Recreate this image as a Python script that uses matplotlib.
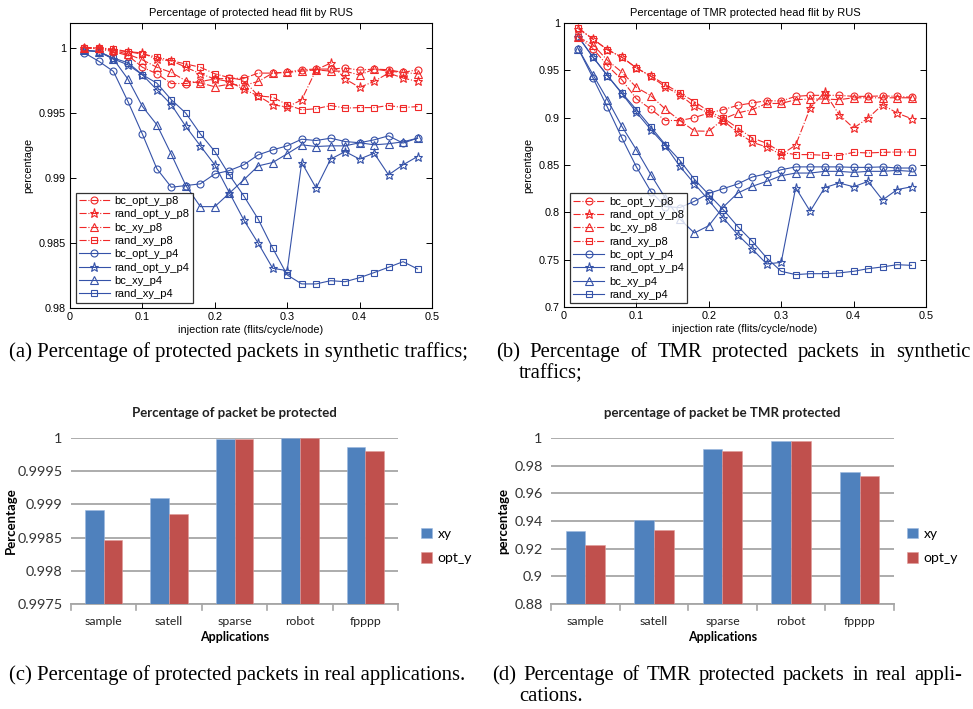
import matplotlib
matplotlib.use("Agg")
import matplotlib.pyplot as plt
from matplotlib.lines import Line2D

W, H = 973, 709

# ---------------- data ----------------
rate = [0.02, 0.04, 0.06, 0.08, 0.10, 0.12, 0.14, 0.16, 0.18, 0.20, 0.22, 0.24,
        0.26, 0.28, 0.30, 0.32, 0.34, 0.36, 0.38, 0.40, 0.42, 0.44, 0.46, 0.48]

a_bc_opt_y_p8 = [1.0, 0.9999, 0.9997, 0.9994, 0.9985, 0.9980, 0.99725, 0.99725, 0.9974, 0.9976, 0.99765, 0.99765,
                 0.99805, 0.99805, 0.99813, 0.99831, 0.99836, 0.99836, 0.99844, 0.99828, 0.99836, 0.99831, 0.9981, 0.99831]
a_rand_opt_y_p8 = [1.0, 1.0, 0.9998, 0.9997, 0.9996, 0.9991, 0.9990, 0.9985, 0.9980, 0.9976, 0.9974, 0.9968,
                   0.9963, 0.99562, 0.99544, 0.9960, 0.99831, 0.99882, 0.9976, 0.99695, 0.99741, 0.99805, 0.99767, 0.99741]
a_bc_xy_p8 = [1.0, 0.99995, 0.9998, 0.9995, 0.99907, 0.9985, 0.9981, 0.99746, 0.9973, 0.9970, 0.9972, 0.9971,
              0.99741, 0.99805, 0.9981, 0.9982, 0.9983, 0.9982, 0.9982, 0.9979, 0.99836, 0.9982, 0.9981, 0.9980]
a_rand_xy_p8 = [1.0, 0.99998, 0.9999, 0.9997, 0.9995, 0.9993, 0.9990, 0.99875, 0.9985, 0.9980, 0.9977, 0.9975,
                0.9963, 0.9962, 0.99562, 0.99523, 0.99531, 0.99556, 0.99536, 0.9954, 0.9954, 0.99556, 0.9954, 0.99548]
a_bc_opt_y_p4 = [0.9996, 0.99895, 0.99818, 0.99587, 0.99336, 0.9907, 0.98928, 0.98941, 0.98954, 0.9903, 0.99056, 0.9910,
                 0.99177, 0.99215, 0.99246, 0.99297, 0.99287, 0.99305, 0.99279, 0.9927, 0.99292, 0.99323, 0.99267, 0.99305]
a_rand_opt_y_p4 = [0.9998, 0.9997, 0.99913, 0.99869, 0.99792, 0.99677, 0.99562, 0.99395, 0.99246, 0.9910, 0.98887, 0.98677,
                   0.98497, 0.98305, 0.98287, 0.99118, 0.98921, 0.99144, 0.99202, 0.99144, 0.9919, 0.99023, 0.9910, 0.99164]
a_bc_xy_p4 = [0.9998, 0.9997, 0.99913, 0.99759, 0.99549, 0.99408, 0.9918, 0.98941, 0.98779, 0.98779, 0.98882, 0.98985,
              0.99092, 0.99118, 0.99185, 0.99254, 0.99241, 0.99246, 0.99246, 0.9927, 0.99254, 0.99262, 0.99277, 0.99305]
a_rand_xy_p4 = [0.9998, 0.9997, 0.9992, 0.99885, 0.99792, 0.99728, 0.9960, 0.99497, 0.99338, 0.99203, 0.99023, 0.98862,
                0.98682, 0.98459, 0.98254, 0.98185, 0.98185, 0.9821, 0.98202, 0.98233, 0.98272, 0.98313, 0.98356, 0.9830]

b_bc_opt_y_p8 = [0.985, 0.973, 0.955, 0.940, 0.920, 0.909, 0.897, 0.897, 0.900, 0.905, 0.9085, 0.913,
                 0.9155, 0.918, 0.9176, 0.9225, 0.9236, 0.9236, 0.9236, 0.9225, 0.9225, 0.923, 0.9225, 0.9215]
b_rand_opt_y_p8 = [0.9937, 0.9831, 0.9718, 0.9637, 0.9525, 0.9437, 0.9324, 0.9243, 0.912, 0.9049, 0.8968, 0.8845,
                   0.874, 0.869, 0.861, 0.871, 0.9102, 0.9268, 0.9032, 0.889, 0.8996, 0.9137, 0.9049, 0.8989]
b_bc_xy_p8 = [0.985, 0.977, 0.9606, 0.948, 0.932, 0.9232, 0.909, 0.897, 0.886, 0.8856, 0.8986, 0.905,
              0.9085, 0.915, 0.915, 0.919, 0.9197, 0.9197, 0.919, 0.921, 0.921, 0.921, 0.921, 0.921]
b_rand_xy_p8 = [0.9947, 0.983, 0.9718, 0.964, 0.9525, 0.944, 0.935, 0.926, 0.917, 0.9067, 0.8996, 0.889,
                0.8785, 0.873, 0.8634, 0.861, 0.861, 0.8602, 0.860, 0.8634, 0.8627, 0.8634, 0.8637, 0.8637]
b_bc_opt_y_p4 = [0.9725, 0.942, 0.911, 0.8785, 0.848, 0.822, 0.806, 0.805, 0.8116, 0.820, 0.825, 0.830,
                 0.8373, 0.8408, 0.845, 0.848, 0.848, 0.848, 0.848, 0.8475, 0.8475, 0.848, 0.8468, 0.8468]
b_rand_opt_y_p4 = [0.9852, 0.964, 0.9444, 0.9254, 0.9056, 0.8873, 0.8704, 0.8486, 0.8303, 0.8127, 0.794, 0.7764,
                   0.7613, 0.7454, 0.7472, 0.826, 0.8011, 0.826, 0.831, 0.827, 0.8327, 0.813, 0.824, 0.827]
b_bc_xy_p4 = [0.9725, 0.9454, 0.919, 0.8908, 0.866, 0.8398, 0.815, 0.793, 0.7782, 0.7859, 0.8056, 0.8204,
              0.8275, 0.8327, 0.8387, 0.8415, 0.8415, 0.8433, 0.8433, 0.8422, 0.8433, 0.8433, 0.8443, 0.8433]
b_rand_xy_p4 = [0.9852, 0.964, 0.9444, 0.926, 0.9085, 0.8901, 0.8715, 0.8549, 0.835, 0.8187, 0.8028, 0.785,
                0.7694, 0.7518, 0.7377, 0.7342, 0.7352, 0.7352, 0.736, 0.7377, 0.7405, 0.7423, 0.7447, 0.744]

series_names = ["bc_opt_y_p8", "rand_opt_y_p8", "bc_xy_p8", "rand_xy_p8",
                "bc_opt_y_p4", "rand_opt_y_p4", "bc_xy_p4", "rand_xy_p4"]

apps = ["sample", "satell", "sparse", "robot", "fpppp"]
c_xy = [0.99892, 0.99909, 0.99998, 1.0, 0.99986]
c_opt_y = [0.99846, 0.99886, 0.99998, 1.0, 0.99980]
d_xy = [0.9325, 0.9405, 0.9918, 0.9980, 0.9757]
d_opt_y = [0.9227, 0.9335, 0.9905, 0.9980, 0.9727]

a_yticks = [0.98, 0.985, 0.99, 0.995, 1.0]
b_yticks = [0.7, 0.75, 0.8, 0.85, 0.9, 0.95, 1.0]
x_ticks = [0, 0.1, 0.2, 0.3, 0.4, 0.5]
c_yticks = [0.9975, 0.998, 0.9985, 0.999, 0.9995, 1.0]
d_yticks = [0.88, 0.9, 0.92, 0.94, 0.96, 0.98, 1.0]

# ---------------- figure ----------------
fig = plt.figure(figsize=(W / 100, H / 100), dpi=100)
fig.patch.set_facecolor("white")


def ax_px(l, t, r, b):
    return fig.add_axes([l / W, 1 - b / H, (r - l) / W, (b - t) / H])


RED = "#F02828"
BLUE = "#3552A8"
SANS = "Liberation Sans"
markers = ["o", "*", "^", "s"]
msizes = [5, 6.5, 5.5, 4.5]


def line_panel(ax, datasets, yticks, ylim, title, leg_box):
    for i, ys in enumerate(datasets):
        red = i < 4
        ax.plot(rate, ys, color=RED if red else BLUE,
                linestyle="-." if red else "-", linewidth=0.8,
                marker=markers[i % 4], markersize=msizes[i % 4],
                markerfacecolor="none", markeredgecolor=RED if red else BLUE,
                markeredgewidth=0.8, zorder=3 if red else 2)
    ax.set_xlim(0, 0.5)
    ax.set_ylim(*ylim)
    ax.set_xticks(x_ticks)
    ax.set_xticklabels(["%g" % v for v in x_ticks], fontsize=7.8, family=SANS)
    ax.set_yticks(yticks)
    ax.set_yticklabels(["%g" % v for v in yticks], fontsize=7.8, family=SANS)
    ax.tick_params(direction="in", top=True, right=True, length=4, width=0.7, pad=3)
    for s in ax.spines.values():
        s.set_linewidth(0.8)
    ax.set_title(title, fontsize=8, family=SANS, pad=5)
    ax.set_xlabel("injection rate (flits/cycle/node)", fontsize=7.8, family=SANS, labelpad=2)
    ax.set_ylabel("percentage", fontsize=7.8, family=SANS, labelpad=4)
    handles = []
    for i, n in enumerate(series_names):
        red = i < 4
        handles.append(Line2D([], [], color=RED if red else BLUE,
                              linestyle="-." if red else "-", linewidth=0.8,
                              marker=markers[i % 4], markersize=msizes[i % 4],
                              markerfacecolor="none",
                              markeredgecolor=RED if red else BLUE, markeredgewidth=0.8))
    l, b = leg_box
    leg = ax.legend(handles, series_names, loc="lower left",
                    bbox_to_anchor=(l, b), bbox_transform=fig.transFigure,
                    prop={"family": SANS, "size": 8}, frameon=True, fancybox=False,
                    edgecolor="black", borderpad=0.3, labelspacing=0.3,
                    handlelength=2.8, handletextpad=0.4, borderaxespad=0)
    leg.get_frame().set_linewidth(0.9)
    leg.set_zorder(10)


ax_a = ax_px(70, 23, 432, 308)
line_panel(ax_a, [a_bc_opt_y_p8, a_rand_opt_y_p8, a_bc_xy_p8, a_rand_xy_p8,
                  a_bc_opt_y_p4, a_rand_opt_y_p4, a_bc_xy_p4, a_rand_xy_p4],
           a_yticks, (0.98, 1.0019), "Percentage of protected head flit by RUS",
           (75.5 / W, 1 - 302.7 / H))

ax_b = ax_px(564, 23, 926, 307)
line_panel(ax_b, [b_bc_opt_y_p8, b_rand_opt_y_p8, b_bc_xy_p8, b_rand_xy_p8,
                  b_bc_opt_y_p4, b_rand_opt_y_p4, b_bc_xy_p4, b_rand_xy_p4],
           b_yticks, (0.7, 1.0), "Percentage of TMR protected head flit by RUS",
           (570 / W, 1 - 303.3 / H))

# ---------------- bar panels ----------------
BAR_FONT = "Lato"
XY_C = "#4F81BD"
OPT_C = "#C0504D"
GRID_C = "#A6A6A6"


def bar_panel(ax, xy, opt, yticks, title, ylabel, fmt, leg_x, ylab_x):
    xs = list(range(len(apps)))
    w = 0.286
    ax.bar([x - w / 2 for x in xs], xy, width=w, color=XY_C, label="xy", zorder=3,
           edgecolor="#9DB9E0", linewidth=0.4)
    ax.bar([x + w / 2 for x in xs], opt, width=w, color=OPT_C, label="opt_y", zorder=3,
           edgecolor="#E09C9A", linewidth=0.4)
    ax.set_xlim(-0.5, len(apps) - 0.5)
    ax.set_ylim(yticks[0], yticks[-1])
    ax.set_yticks(yticks)
    ax.set_yticklabels([fmt(v) for v in yticks], fontsize=10.4, family=BAR_FONT, color="#333333")
    ax.yaxis.grid(True, color=GRID_C, linewidth=1.3, zorder=0)
    ax.set_axisbelow(True)
    ax.tick_params(axis="y", length=0, pad=6)
    ax.set_xticks(xs)
    ax.set_xticklabels(apps, fontsize=8.8, family=BAR_FONT, color="#222222")
    ax.tick_params(axis="x", length=0, pad=8.5)
    for k in range(len(apps) + 1):
        ax.plot([k - 0.5, k - 0.5], [0, -0.035], transform=ax.get_xaxis_transform(),
                color=GRID_C, linewidth=1.2, clip_on=False)
    for s in ["top", "right", "left"]:
        ax.spines[s].set_visible(False)
    ax.spines["bottom"].set_color(GRID_C)
    ax.spines["bottom"].set_linewidth(1.3)
    ax.set_title(title, fontsize=9.5, family=BAR_FONT, fontweight="bold", pad=15, color="#222222")
    ax.set_xlabel("Applications", fontsize=9, family=BAR_FONT, fontweight="bold", labelpad=3)
    ax.set_ylabel(ylabel, fontsize=9.5, family=BAR_FONT, fontweight="bold", va="center")
    ax.yaxis.set_label_coords(ylab_x, 0.5)
    ax.legend(loc="center left", bbox_to_anchor=(leg_x, 0.35), frameon=False,
              prop={"family": BAR_FONT, "size": 10}, handlelength=0.8, handleheight=0.8,
              handletextpad=0.4, labelspacing=0.9, borderaxespad=0, borderpad=0)


ax_c = ax_px(71, 438, 398, 604)
bar_panel(ax_c, c_xy, c_opt_y, c_yticks, "Percentage of packet be protected", "Percentage",
          lambda v: "%g" % round(v, 4), (421 - 71) / 327, (11 - 71) / 327)

ax_d = ax_px(551, 438, 894, 604)
bar_panel(ax_d, d_xy, d_opt_y, d_yticks, "percentage of packet be TMR protected", "percentage",
          lambda v: "%g" % round(v, 2), (907 - 551) / 343, (503 - 551) / 343)

# ---------------- captions ----------------
CAPFONT = dict(family="Liberation Serif", fontsize=14.85)
renderer = fig.canvas.get_renderer()


def caption(x0, y, text):
    fig.text(x0 / W, 1 - y / H, text, va="baseline", ha="left", **CAPFONT)


def justified(x0, x1, y, text):
    words = text.split(" ")
    objs = [fig.text(0, 1 - y / H, wd, va="baseline", ha="left", **CAPFONT) for wd in words]
    widths = [o.get_window_extent(renderer=renderer).width for o in objs]
    gap = (x1 - x0 - sum(widths)) / (len(words) - 1)
    x = x0
    for o, wdt in zip(objs, widths):
        o.set_x(x / W)
        x += wdt + gap


caption(9, 357, "(a) Percentage of protected packets in synthetic traffics;")
justified(496, 970, 357, "(b) Percentage of TMR protected packets in synthetic")
caption(519, 378, "traffics;")
caption(9, 680, "(c) Percentage of protected packets in real applications.")
justified(492, 962, 680, "(d) Percentage of TMR protected packets in real appli-")
caption(519, 701, "cations.")

fig.savefig("out.png", dpi=100, facecolor="white")
